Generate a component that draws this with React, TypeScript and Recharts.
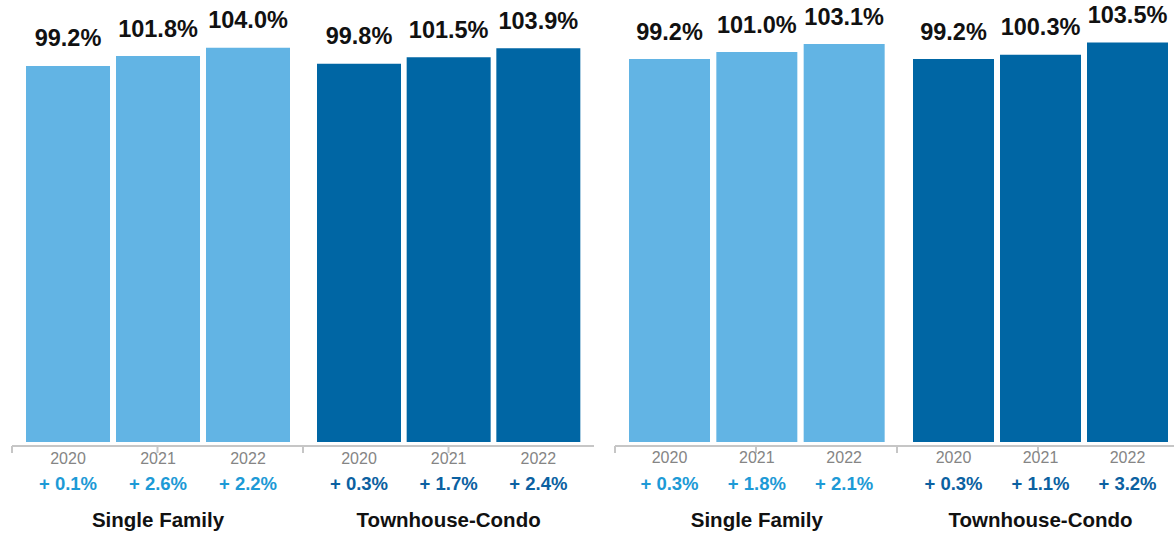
import React from 'react'
import { BarChart, Bar, XAxis, YAxis, LabelList } from 'recharts'

const YEARS = ['2020', '2021', '2022']
const GROUPS = ['Single Family', 'Townhouse-Condo']

// left panel
const LEFT_SF = [99.2, 101.8, 104.0]
const LEFT_SF_CHANGE = [0.1, 2.6, 2.2]
const LEFT_TC = [99.8, 101.5, 103.9]
const LEFT_TC_CHANGE = [0.3, 1.7, 2.4]

// right panel
const RIGHT_SF = [99.2, 101.0, 103.1]
const RIGHT_SF_CHANGE = [0.3, 1.8, 2.1]
const RIGHT_TC = [99.2, 100.3, 103.5]
const RIGHT_TC_CHANGE = [0.3, 1.1, 3.2]

const LIGHT = '#62b4e4'
const DARK = '#0066a4'
const LIGHT_TEXT = '#1d9ad6'
const DARK_TEXT = '#0b61a1'
const AXIS = '#c6c6c6'
const FONT = '"Liberation Sans", Arial, Helvetica, sans-serif'

const makeRows = (values: number[], changes: number[]) =>
  YEARS.map((year, i) => ({ year, value: values[i], change: changes[i] }))

const CHART_H = 533
const AXIS_H = 87

const groups = [
  { name: GROUPS[0], data: makeRows(LEFT_SF, LEFT_SF_CHANGE), fill: LIGHT, text: LIGHT_TEXT, left: 12, width: 291, pad: { left: 11, right: 10 }, domain: [-1.05, 116.6] },
  { name: GROUPS[1], data: makeRows(LEFT_TC, LEFT_TC_CHANGE), fill: DARK, text: DARK_TEXT, left: 303, width: 291, pad: { left: 11, right: 11 }, domain: [-1.05, 116.6] },
  { name: GROUPS[0], data: makeRows(RIGHT_SF, RIGHT_SF_CHANGE), fill: LIGHT, text: LIGHT_TEXT, left: 615, width: 282, pad: { left: 11, right: 9 }, domain: [-1.04, 114.5] },
  { name: GROUPS[1], data: makeRows(RIGHT_TC, RIGHT_TC_CHANGE), fill: DARK, text: DARK_TEXT, left: 897, width: 282, pad: { left: 13, right: 8 }, domain: [-1.04, 114.5] },
]

// text under each bar: year, change and (middle bar only) group name
const belowLabel = (kind: 'year' | 'change' | 'group', color: string, groupName: string) => (props: any) => {
  const vb = props.viewBox || props
  const cx = vb.x + vb.width / 2
  const base = vb.y + vb.height
  if (kind === 'year') {
    return (
      <text x={cx} y={base + 21.5} textAnchor="middle" fill="#858585" fontSize={16} fontFamily={FONT}>
        {props.value}
      </text>
    )
  }
  if (kind === 'change') {
    return (
      <text x={cx} y={base + 48} textAnchor="middle" fill={color} fontSize={18.5} fontWeight="bold" fontFamily={FONT}>
        {`+ ${Number(props.value).toFixed(1)}%`}
      </text>
    )
  }
  if (props.index !== 1) return null
  return (
    <text x={cx} y={base + 85} textAnchor="middle" fill="#111" fontSize={20.5} fontWeight="bold" fontFamily={FONT}>
      {groupName}
    </text>
  )
}

function GroupChart({ g }: { g: (typeof groups)[number] }) {
  return (
    <div style={{ position: 'absolute', left: g.left, top: 0 }}>
      <BarChart width={g.width} height={CHART_H} data={g.data} margin={{ top: 0, right: 0, bottom: 0, left: 0 }} barCategoryGap={3}>
        <XAxis xAxisId="cat" dataKey="year" hide height={0} padding={g.pad} />
        {/* plain axis line with end ticks at the group edges */}
        <XAxis
          xAxisId="edge"
          type="number"
          domain={[0, 1]}
          ticks={[0, 1]}
          tickFormatter={() => ''}
          tickSize={7}
          tickLine={{ stroke: AXIS, strokeWidth: 2 }}
          axisLine={{ stroke: AXIS, strokeWidth: 2 }}
          height={AXIS_H}
        />
        <YAxis hide domain={g.domain} allowDataOverflow />
        <Bar xAxisId="cat" dataKey="value" fill={g.fill} isAnimationActive={false}>
          <LabelList
            dataKey="value"
            position="top"
            offset={19.5}
            formatter={(v: any) => `${Number(v).toFixed(1)}%`}
            style={{ fontSize: 23.5, fontWeight: 'bold', fontFamily: FONT, fill: '#111' }}
          />
          <LabelList dataKey="year" content={belowLabel('year', g.text, g.name)} />
          <LabelList dataKey="change" content={belowLabel('change', g.text, g.name)} />
          <LabelList dataKey="year" content={belowLabel('group', g.text, g.name)} />
        </Bar>
      </BarChart>
    </div>
  )
}

export default function App() {
  return (
    <div style={{ position: 'absolute', left: 0, top: 0, width: 1174, height: CHART_H, overflow: 'hidden', background: '#fff', fontFamily: FONT }}>
      <style>{'.recharts-surface { overflow: visible; }'}</style>
      {groups.map((g, i) => (
        <GroupChart key={i} g={g} />
      ))}
    </div>
  )
}
